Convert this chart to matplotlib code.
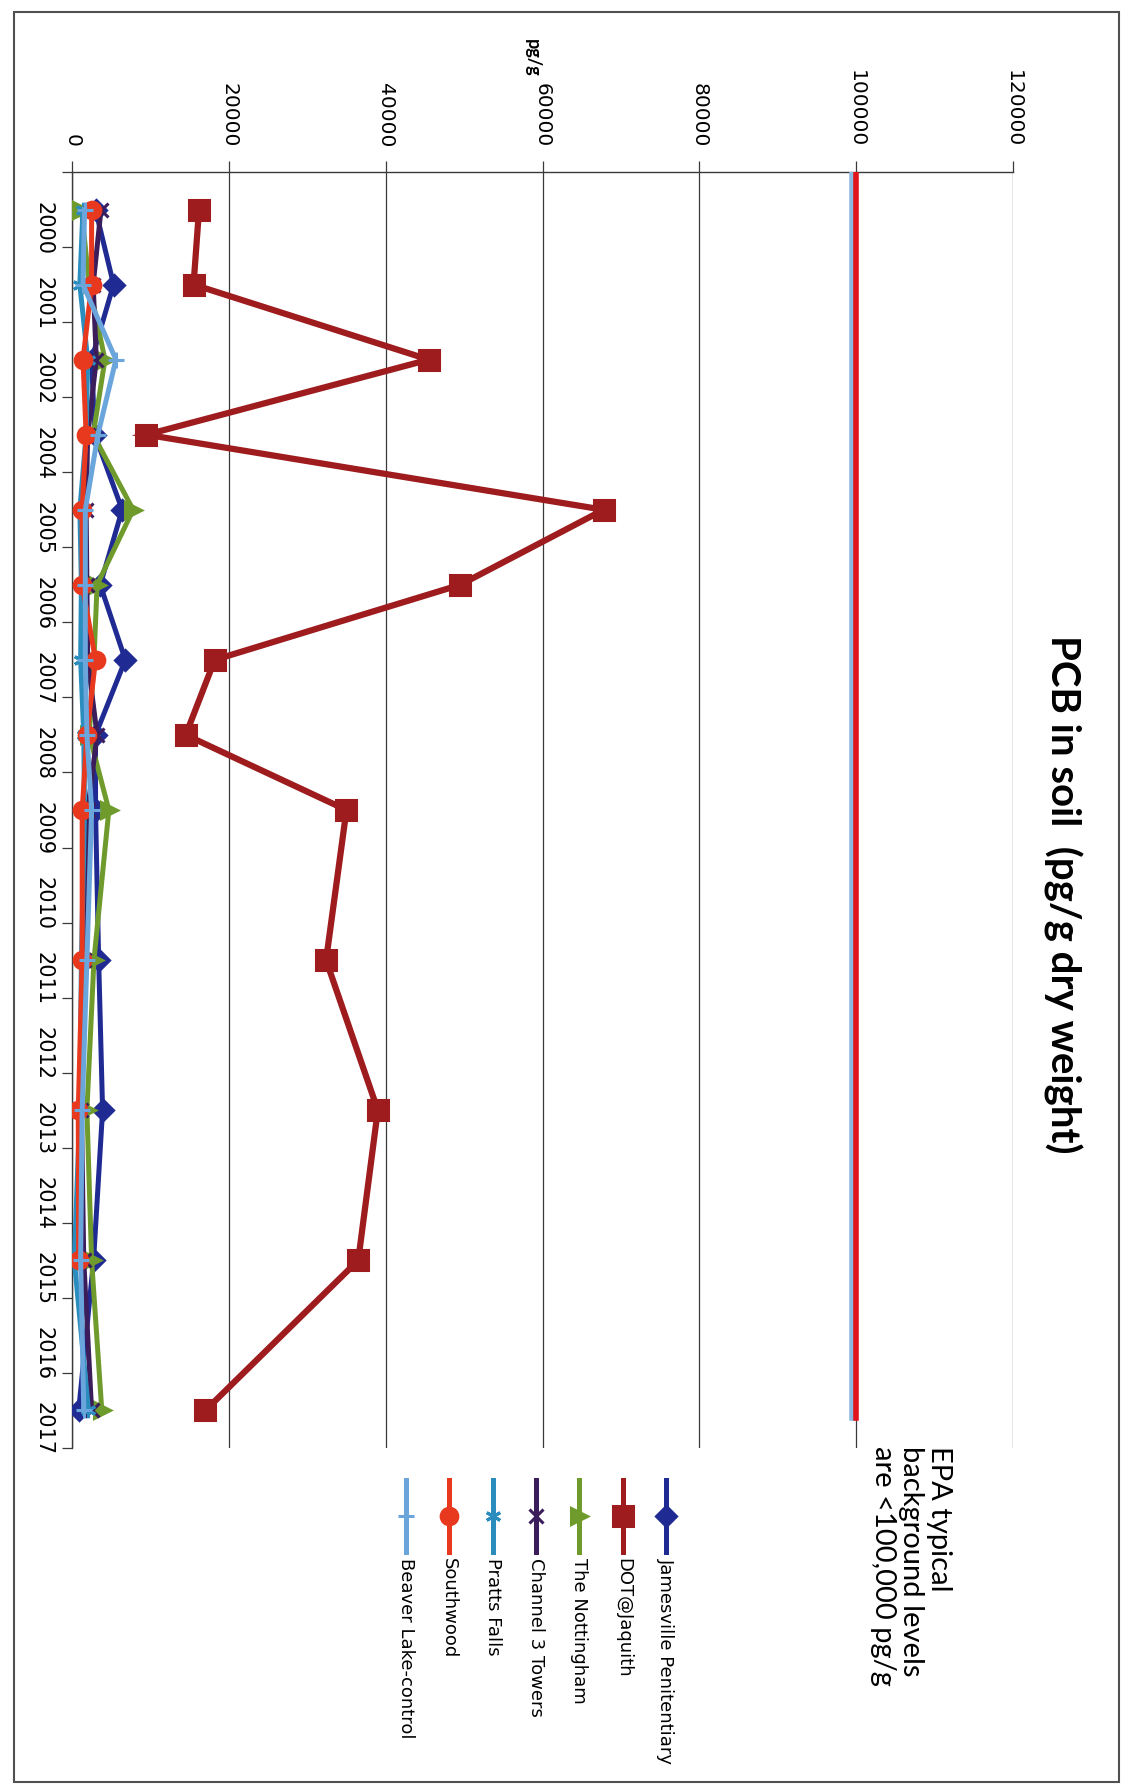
import numpy as np
import matplotlib
matplotlib.use("Agg")
import matplotlib.pyplot as plt
from matplotlib.lines import Line2D
from matplotlib.patches import Rectangle

#%% data read off the (rotated) scan
years = ["2000", "2001", "2002", "2004", "2005", "2006", "2007", "2008", "2009",
         "2010", "2011", "2012", "2013", "2014", "2015", "2016", "2017"]
nan = np.nan
jamesville = [3000, 5300, 2500, 2900, 6400, 3600, 6800, 3000, 3000, nan, 3400, nan, 3900, nan, 2750, nan, 850]
dot_jaquith = [16200, 15500, 45500, 9500, 67800, 49500, 18200, 14500, 35000, nan, 32400, nan, 39000, nan, 36500, nan, 17000]
nottingham = [1200, 2200, 4200, 2700, 7800, 3200, 2800, 2200, 4700, nan, 2800, nan, 1900, nan, 2500, nan, 3800]
channel3 = [3700, 2700, 3100, 2000, 1800, 1900, 2000, 3200, 2000, nan, 1500, nan, 1200, nan, 1500, nan, 2500]
pratts = [1400, 1000, 2000, 1800, 1000, 1200, 1100, 1500, 1600, nan, 1200, nan, 1000, nan, 300, nan, 2100]
southwood = [2500, 2500, 1400, 1800, 1300, 1300, 3000, 1900, 1300, nan, 1300, nan, 800, nan, 850, nan, nan]
beaver_lake = [1600, 1400, 5600, 3300, 1700, 1700, 1700, 1900, 2500, nan, 1900, nan, 1300, nan, 1100, nan, 1500]

series_names = ["Jamesville Penitentiary", "DOT@Jaquith", "The Nottingham", "Channel 3 Towers",
                "Pratts Falls", "Southwood", "Beaver Lake-control"]
value_ticks = [0, 20000, 40000, 60000, 80000, 100000, 120000]
epa_level = 100000
epa_span = [-0.5, 16.1]   # category units the EPA line runs over

#%% styles
colors = ["#1f2a92", "#9e1b1e", "#6f9a2c", "#3c1d5c", "#2a8dbd", "#e8391f", "#6aa5dc"]
markers = ["D", "s", ">", "x", (6, 2, 0), "o", "+"]
msizes = [10, 15, 11, 10, 11, 12, 11]
all_series = [jamesville, dot_jaquith, nottingham, channel3, pratts, southwood, beaver_lake]

W, H = 1125, 1785
fig = plt.figure(figsize=(W / 100, H / 100), dpi=100)
fig.patch.set_facecolor("white")

def px(x, y):
    # pixel (from top-left) -> figure fraction
    return x / W, 1 - y / H

x0, y0 = px(72, 1448)
x1, y1 = px(1013, 172)
ax = fig.add_axes([x0, y0, x1 - x0, y1 - y0])

idx = np.arange(len(years))
for data, name, c, m, ms in zip(all_series, series_names, colors, markers, msizes):
    arr = np.array(data, dtype=float)
    ok = ~np.isnan(arr)
    lw = 4.5 if name == "DOT@Jaquith" else 3.6
    ax.plot(arr[ok], idx[ok], color=c, lw=lw, marker=m, ms=ms,
            mec=c, mfc=c, mew=2.2, zorder=3, solid_joinstyle="miter")

# EPA background level line (blue shadow + red)
ax.plot([epa_level - 500, epa_level - 500], epa_span, color="#8db8e0", lw=4, zorder=3)
ax.plot([epa_level, epa_level], epa_span, color="#e0141a", lw=4, zorder=4)

ax.set_xlim(0, 120000)
ax.set_ylim(16.5, -0.5)
ax.set_xticks(value_ticks)
ax.set_xticklabels([str(v) for v in value_ticks])
ax.xaxis.tick_top()
ax.tick_params(axis="x", which="major", direction="out", length=8, width=0.9,
               color="#3a3a3a", labelrotation=-90, labelsize=14.5, pad=10)
ax.grid(axis="x", color="#3a3a3a", lw=0.9, zorder=1)

ax.set_yticks(idx)
ax.set_yticklabels(years)
ax.set_yticks(np.arange(-0.5, 17, 1), minor=True)
ax.tick_params(axis="y", which="major", length=0, labelrotation=-90, labelsize=15, pad=13)
ax.tick_params(axis="y", which="minor", direction="out", length=7, width=0.9, color="#3a3a3a")

for s in ["right", "bottom"]:
    ax.spines[s].set_visible(False)
for s in ["top", "left"]:
    ax.spines[s].set_color("#3a3a3a")
    ax.spines[s].set_linewidth(1.0)

#%% text
fig.text(*px(1063, 894), "PCB in soil  (pg/g dry weight)", rotation=-90,
         ha="center", va="center", fontsize=29, fontweight="bold", family="Lato")
fig.text(*px(532, 58), "pg/g", rotation=-90, ha="center", va="center",
         fontsize=13, fontweight="bold", family="Lato")
fig.text(*px(952, 1446), "EPA typical\nbackground levels\nare <100,000 pg/g", rotation=-90,
         ha="right", va="top", fontsize=21, family="Lato", multialignment="left",
         linespacing=1.1)

#%% legend drawn by hand (vertical entries)
leg_x = [666, 623, 579, 536, 493, 449, 406]
for lx, name, c, m, ms in zip(leg_x, series_names, colors, markers, msizes):
    fx, fa = px(lx, 1480)
    _, fb = px(lx, 1552)
    _, fm = px(lx, 1516)
    fig.add_artist(Line2D([fx, fx], [fa, fb], color=c, lw=3.6, transform=fig.transFigure))
    fig.add_artist(Line2D([fx], [fm], color=c, marker=m, ms=ms, mec=c, mfc=c, mew=2.2,
                          transform=fig.transFigure))
    fig.text(*px(lx, 1558), name, rotation=-90, ha="center", va="top", fontsize=13)

# scan frame
fig.add_artist(Rectangle(px(14, 1782), (1119 - 14) / W, (1782 - 12) / H,
                         fill=False, ec="#505050", lw=1.5, transform=fig.transFigure))

fig.savefig("out.png", dpi=100, facecolor="white")
